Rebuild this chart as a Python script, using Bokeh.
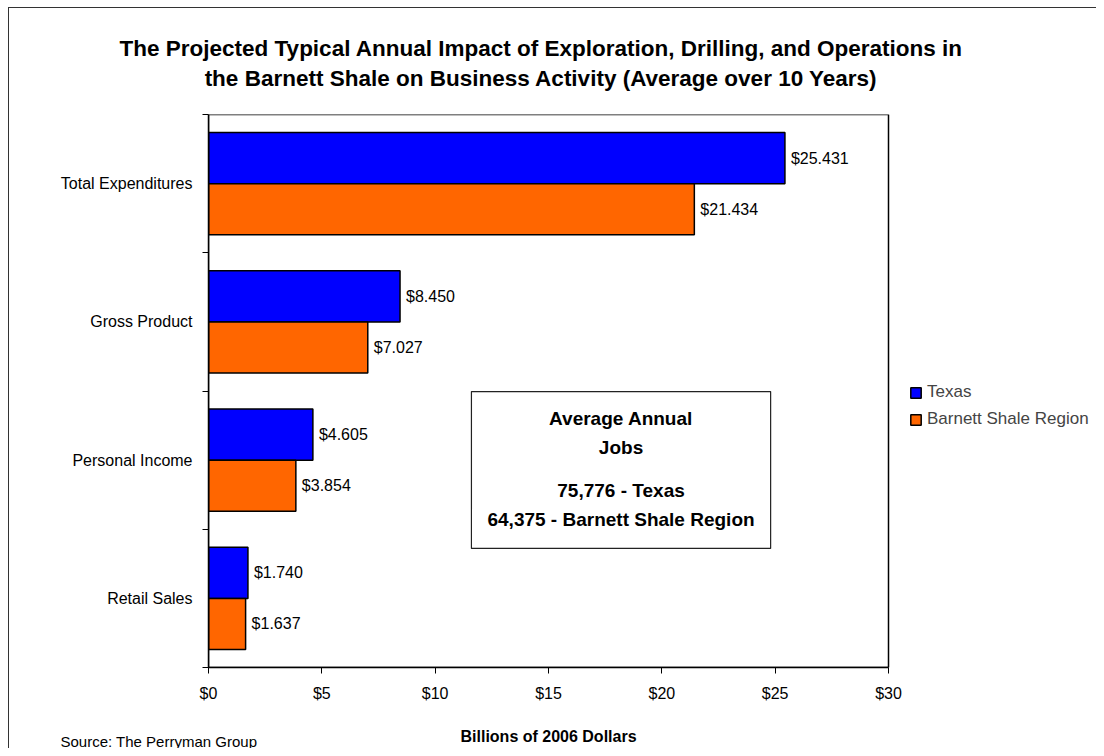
from bokeh.plotting import figure
from bokeh.models import (ColumnDataSource, Range1d, FixedTicker, NumeralTickFormatter,
                          LabelSet, Label, BoxAnnotation, Legend, LegendItem, Title)
from bokeh.embed import file_html
from bokeh.resources import INLINE
from bokeh.core.properties import value

# ---- data ----
categories = ["Total Expenditures", "Gross Product", "Personal Income", "Retail Sales"]
texas = [25.431, 8.450, 4.605, 1.740]
barnett = [21.434, 7.027, 3.854, 1.637]
series_names = ["Texas", "Barnett Shale Region"]
x_ticks = [0, 5, 10, 15, 20, 25, 30]
x_max = 30
title_lines = ["The Projected Typical Annual Impact of Exploration, Drilling, and Operations in",
               "the Barnett Shale on Business Activity (Average over 10 Years)"]
x_title = "Billions of 2006 Dollars"
box_lines = ["Average Annual", "Jobs", "75,776 - Texas", "64,375 - Barnett Shale Region"]
source_note = "Source: The Perryman Group"

FONT = "Liberation Sans"
BLUE = "#0000FF"
ORANGE = "#FF6600"

W, H = 1096, 748
LEFT, TOP, BOTTOM = 208, 114, 81
PLOT_W = 680          # pixel width of the 0..30 plot box

n = len(categories)
centers = [n - i - 0.5 for i in range(n)]
off = 0.185
bh = 0.37

src_t = ColumnDataSource(dict(y=[c + off for c in centers], x=texas,
                              lab=["$%.3f" % v for v in texas]))
src_b = ColumnDataSource(dict(y=[c - off for c in centers], x=barnett,
                              lab=["$%.3f" % v for v in barnett]))

# frame extends to the right edge so the legend (outside the plot box) is not clipped
x_end = x_max * (W - LEFT) / PLOT_W
p = figure(width=W, height=H, output_backend="svg", toolbar_location=None,
           x_range=Range1d(0, x_end), y_range=Range1d(0, n),
           min_border_left=LEFT, min_border_right=0, min_border_top=TOP,
           min_border_bottom=BOTTOM, title=None)
p.styles = {"background": "linear-gradient(#333,#333) 8px 7px / 1px 100% no-repeat, "
                          "linear-gradient(#333,#333) 8px 7px / 100% 1px no-repeat, white"}
p.background_fill_color = "white"
p.border_fill_alpha = 0
p.outline_line_color = None
p.xgrid.visible = False
p.ygrid.visible = False

# plot box (0..30 x all categories)
p.add_layout(BoxAnnotation(left=0, right=x_max, bottom=0, top=n, fill_alpha=0,
                           line_color="black", line_alpha=1, line_width=1.5))

rt = p.hbar(y="y", right="x", left=0, height=bh, source=src_t, fill_color=BLUE,
            line_color="black", line_width=1.5)
rb = p.hbar(y="y", right="x", left=0, height=bh, source=src_b, fill_color=ORANGE,
            line_color="black", line_width=1.5)

for s in (src_t, src_b):
    p.add_layout(LabelSet(x="x", y="y", text="lab", source=s, x_offset=6,
                          text_baseline="middle", text_align="left",
                          text_font=value(FONT), text_font_size="16px",
                          text_color="black"))

# x axis
xa = p.xaxis[0]
xa.bounds = (0, x_max)
xa.ticker = FixedTicker(ticks=x_ticks, minor_ticks=[])
xa.formatter = NumeralTickFormatter(format="$0")
xa.major_tick_out = 6
xa.major_tick_in = 0
xa.minor_tick_out = 0
xa.minor_tick_in = 0
xa.major_label_standoff = 11
xa.major_label_text_font = FONT
xa.major_label_text_font_size = "16px"
xa.major_label_text_color = "black"
xa.axis_line_color = "black"
xa.axis_line_width = 1.5
xa.major_tick_line_color = "black"
# spacer label reserves room; the visible axis title is a Title centred on the plot box
xa.axis_label = "\u00a0"
xa.axis_label_text_font = FONT
xa.axis_label_text_font_size = "16px"
xa.axis_label_standoff = 10

# y axis: labels at category centers, ticks at boundaries
ya = p.yaxis[0]
ya.ticker = FixedTicker(ticks=centers, minor_ticks=list(range(n + 1)))
ya.major_label_overrides = {c: categories[i] for i, c in enumerate(centers)}
ya.major_tick_out = 0
ya.major_tick_in = 0
ya.minor_tick_out = 6
ya.minor_tick_in = 0
ya.minor_tick_line_color = "black"
ya.major_label_standoff = 10
ya.major_label_text_font = FONT
ya.major_label_text_font_size = "16px"
ya.major_label_text_color = "black"
ya.axis_line_color = "black"
ya.axis_line_width = 1.5

# legend (inside the extended frame, right of the plot box)
legend = Legend(items=[LegendItem(label=series_names[0], renderers=[rt]),
                       LegendItem(label=series_names[1], renderers=[rb])],
                location=(701, 238), padding=0, margin=0, spacing=7,
                glyph_width=13, glyph_height=13, label_height=18, label_standoff=5,
                label_text_font=FONT, label_text_font_size="17px",
                border_line_alpha=0, background_fill_alpha=0)
p.add_layout(legend, "center")

# title (two centred lines, centred over the plot box)
p.add_layout(Title(text=title_lines[0] + "\n" + title_lines[1], align="left", offset=-89,
                   text_align="center", standoff=48, text_line_height=1.2,
                   text_font=FONT, text_font_size="22.5px", text_font_style="bold",
                   text_color="black"), "above")

# x-axis title, centred under the plot box
p.add_layout(Title(text=x_title, align="left", offset=252, standoff=-14,
                   vertical_align="top",
                   text_font=FONT, text_font_size="16px", text_font_style="bold",
                   text_color="black"), "below")

# source note
p.add_layout(Title(text=source_note, align="left", offset=-148, standoff=-13,
                   vertical_align="top",
                   text_font=FONT, text_font_size="15px", text_font_style="normal",
                   text_color="black"), "below")

# jobs box
p.add_layout(BoxAnnotation(left=11.6, right=24.8, top=1.996, bottom=0.861,
                           fill_color="white", fill_alpha=1, line_color="#222",
                           line_alpha=1, line_width=1.2))
for txt, yy in zip(box_lines, [1.801, 1.591, 1.280, 1.071]):
    p.add_layout(Label(x=18.2, y=yy, text=txt, text_align="center", text_baseline="middle",
                       text_font=FONT, text_font_size="19px", text_font_style="bold",
                       text_color="black"))

open("out.html", "w").write(file_html(p, INLINE))
